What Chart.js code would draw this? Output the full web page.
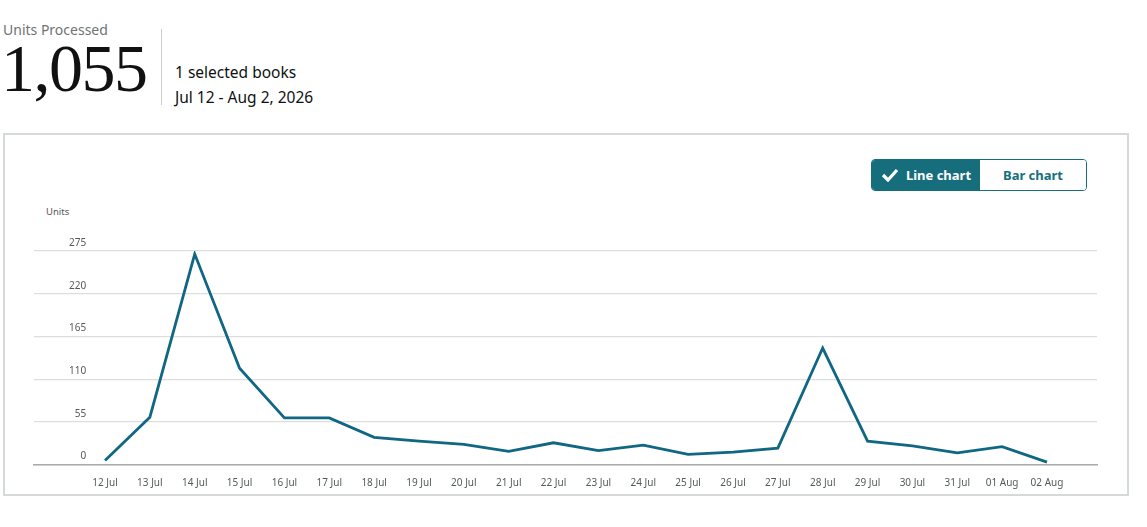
<!DOCTYPE html>
<html>
<head>
<meta charset="utf-8">
<script src="https://cdn.jsdelivr.net/npm/chart.js@4/dist/chart.umd.min.js"></script>
<style>
  body { margin: 0; background: #fff; font-family: "Noto Sans", sans-serif; width: 1147px; height: 527px; overflow: hidden; position: relative; }
  .kpi-label { position: absolute; left: 3px; top: 20px; font-size: 14px; color: #6f7373; }
  .kpi-value { position: absolute; left: 1px; top: 28px; font-family: "Liberation Serif", serif; font-size: 68px; color: #111; line-height: 1.2; letter-spacing: -1.5px; }
  .divider { position: absolute; left: 161px; top: 29px; width: 1px; height: 76px; background: #ccc; }
  .meta { position: absolute; left: 175px; font-size: 15.5px; color: #0f1111; }
  .box { position: absolute; left: 3px; top: 133px; width: 1122px; height: 359px; border: 2px solid #d5d9d9; }
  .toggle { position: absolute; left: 871px; top: 159px; width: 214px; height: 30px; border: 1px solid #166e7d; border-radius: 4px; overflow: hidden; display: flex; font-size: 13px; font-weight: bold; }
  .toggle div { display: flex; align-items: center; justify-content: center; }
  .on { background: #166e7d; color: #fff; width: 108px; }
  .off { background: #fff; color: #166e7d; flex: 1; }
  .units { position: absolute; left: 46px; top: 205px; font-size: 9.5px; color: #555; }
  #wrap { position: absolute; left: 0; top: 133px; width: 1147px; height: 394px; }
</style>
</head>
<body>
<div class="kpi-label">Units Processed</div>
<div class="kpi-value">1,055</div>
<div class="divider"></div>
<div class="meta" style="top:61px">1 selected books</div>
<div class="meta" style="top:86px">Jul 12 - Aug 2, 2026</div>
<div class="box"></div>
<div class="toggle">
  <div class="on"><svg width="18" height="14" viewBox="0 0 18 14" style="margin-right:7px"><path d="M2 7 L7 12 L16 2" stroke="#fff" stroke-width="3.2" fill="none"/></svg>Line chart</div>
  <div class="off">Bar chart</div>
</div>
<div class="units">Units</div>
<div id="wrap"><canvas id="unitsChart"></canvas></div>
<script>
var days = ['12 Jul','13 Jul','14 Jul','15 Jul','16 Jul','17 Jul','18 Jul','19 Jul','20 Jul','21 Jul','22 Jul',
            '23 Jul','24 Jul','25 Jul','26 Jul','27 Jul','28 Jul','29 Jul','30 Jul','31 Jul','01 Aug','02 Aug'];
var units = [5, 61, 271, 124, 60, 60, 35, 30, 26, 17, 28, 18, 25, 13, 16, 21, 150, 30, 24, 15, 23, 3];
var yTicks = [0, 55, 110, 165, 220, 275];

new Chart(document.getElementById('unitsChart'), {
  type: 'line',
  data: {
    datasets: [{
      label: 'Units',
      data: units.map(function(v, i) { return {x: i, y: v}; }),
      borderColor: '#0f6784',
      borderWidth: 2.8,
      pointRadius: 0,
      tension: 0,
      fill: false
    }]
  },
  options: {
    responsive: true,
    maintainAspectRatio: false,
    animation: false,
    layout: { padding: { left: 34, right: 50, top: 118, bottom: 24.5 } },
    plugins: { legend: { display: false }, tooltip: { enabled: false } },
    scales: {
      x: {
        type: 'linear',
        min: -1.583,
        max: 22.115,
        afterBuildTicks: function(scale) {
          scale.ticks = days.map(function(d, i) { return {value: i}; });
        },
        grid: { display: false, drawTicks: false },
        border: { display: true, color: '#a9abab', width: 1.5 },
        ticks: {
          autoSkip: false,
          maxRotation: 0,
          padding: 13,
          color: '#565959',
          font: { family: 'Noto Sans', size: 10 },
          callback: function(v) { return days[v]; }
        }
      },
      y: {
        min: 0,
        max: 275,
        afterBuildTicks: function(scale) {
          scale.ticks = yTicks.map(function(v) { return {value: v}; });
        },
        // labels sit inside the plot, above their grid lines
        afterFit: function(scale) { scale.width = 0; },
        grid: { color: '#dcdede', lineWidth: 1.2, drawTicks: false },
        border: { display: false },
        ticks: {
          mirror: true,
          crossAlign: 'far',
          padding: 35,
          labelOffset: -8,
          color: '#565959',
          font: { family: 'Noto Sans', size: 10 }
        }
      }
    }
  }
});
</script>
</body>
</html>
